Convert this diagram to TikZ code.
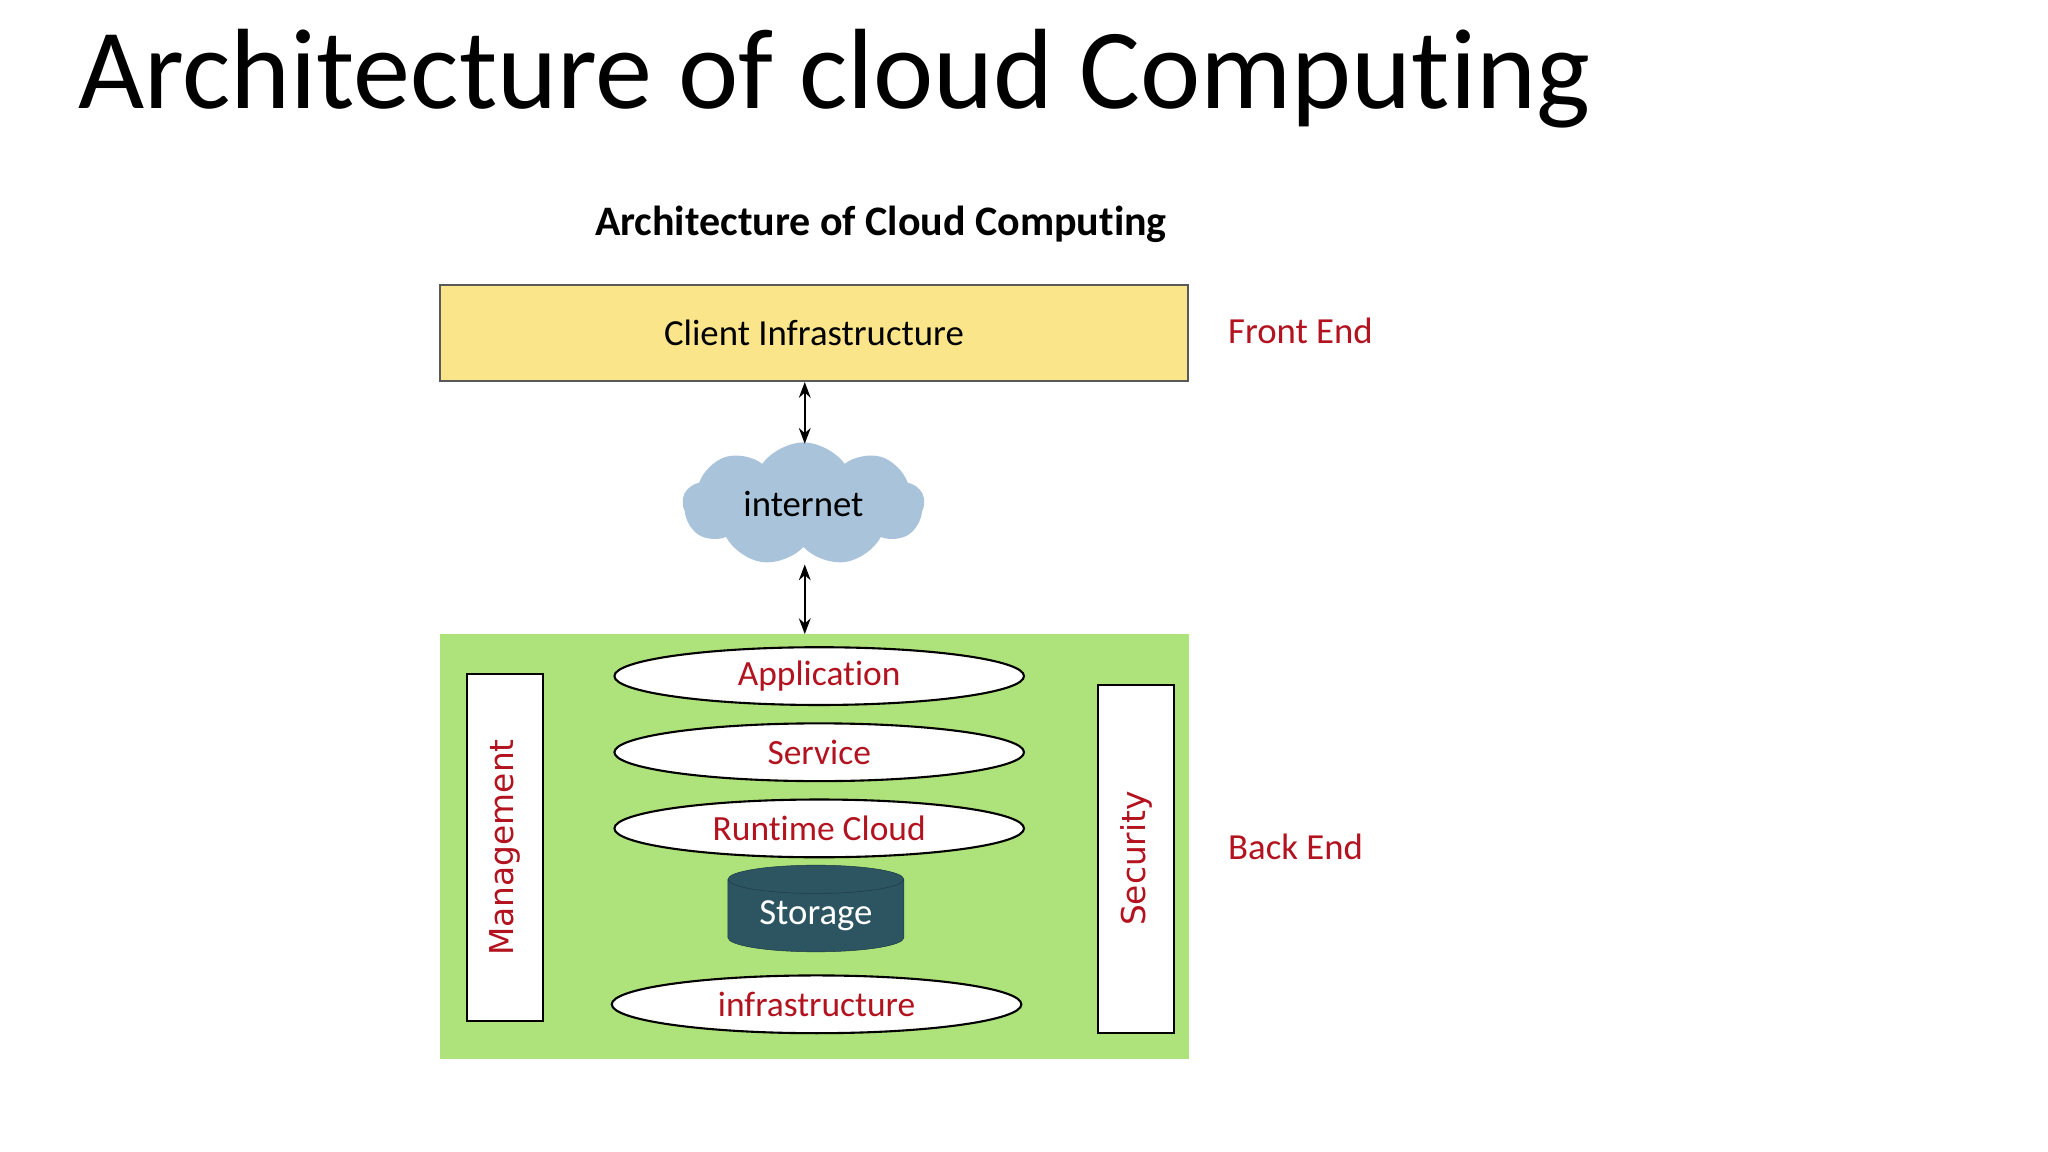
\documentclass[tikz,border=0pt]{standalone}
\usepackage{fontspec}
\setmainfont{Carlito}[Ligatures=NoCommon]
\newfontfamily\dv{DejaVu Sans}
\usetikzlibrary{shapes.symbols,shapes.geometric,arrows.meta}
\definecolor{dred}{HTML}{B3121F}
\definecolor{cy}{HTML}{FBE58A}
\definecolor{gr}{HTML}{AEE27A}
\definecolor{cl}{HTML}{A9C4DA}
\definecolor{st}{HTML}{2C5561}
\tikzset{
 lay/.style={ellipse,draw,line width=1.6pt,fill=white,minimum width=312pt,minimum height=44pt,inner sep=0pt,text=dred,font=\fontsize{27}{30}\selectfont},
 side/.style={draw,line width=1.5pt,fill=white,minimum width=58pt,inner sep=0pt},
 arr/.style={{Stealth[length=12pt,width=9pt]}-{Stealth[length=12pt,width=9pt]},line width=1.3pt},
 lab/.style={text=dred,font=\fontsize{28}{32}\selectfont,anchor=west}
}
\begin{document}
\begin{tikzpicture}[x=1pt,y=-1pt]
\useasboundingbox (0,0) rectangle (1560,877.5);
\node[anchor=west,font=\fontsize{87}{96}\selectfont] (title) at (56,60) {Architecture of cloud Computing};
\node[font=\bfseries\fontsize{32}{36}\selectfont] (sub) at (671,171) {Architecture of Cloud Computing};
\node[draw=black!65,line width=1.6pt,fill=cy,minimum width=570pt,minimum height=73pt,font=\fontsize{28}{32}\selectfont] (client) at (620,253.5) {Client Infrastructure};
\node[lab] (fe) at (932,252) {Front End};
\node[cloud,cloud puffs=9,cloud puff arc=110,aspect=2,fill=cl,minimum width=184pt,minimum height=94pt,inner sep=0pt,font=\fontsize{28}{32}\selectfont] (cloud) at (612,384) {internet};
\node[fill=gr,minimum width=571pt,minimum height=324pt,inner sep=0pt] (back) at (620.5,645) {};
\coordinate (t1) at (613,291);
\coordinate (t2) at (613,338);
\coordinate (t3) at (613,430);
\coordinate (t4) at (613,483);
\draw[arr] (t1) -- (t2);
\draw[arr] (t3) -- (t4);
\node[side,minimum height=264pt] (mg) at (384.5,645.5) {};
\node[rotate=90,text=dred,font=\dv\fontsize{25}{28}\selectfont] at (mg.center) {Management};
\node[side,minimum height=265pt] (sec) at (865.5,654) {};
\node[rotate=90,text=dred,font=\dv\fontsize{25}{28}\selectfont] at (sec.center) {Security};
\node[lay] (app) at (624,515) {Application};
\node[lay] (svc) at (624,573) {Service};
\node[lay] (rt) at (624,631) {Runtime Cloud};
\node[lay] (inf) at (622,765) {infrastructure};
\node[cylinder,shape border rotate=90,aspect=0.25,minimum width=134pt,minimum height=66pt,inner sep=0pt,
  draw=st!70!black,fill=st,text=white,font=\fontsize{28}{32}\selectfont] (sto) at (621.5,697.5) {Storage};
\node[lab] (be) at (932,645) {Back End};
\end{tikzpicture}
\end{document}
